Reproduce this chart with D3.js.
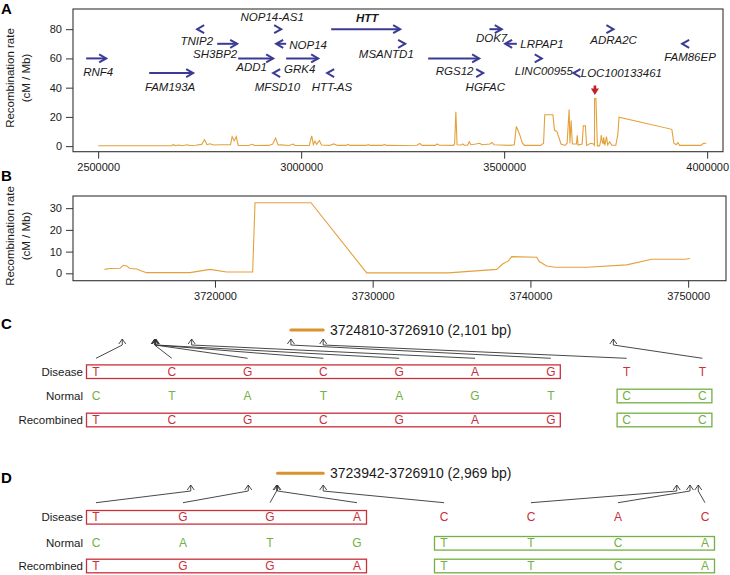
<!DOCTYPE html>
<html>
<head>
<meta charset="utf-8">
<script src="https://cdn.jsdelivr.net/npm/d3@7"></script>
<style>
body { margin: 0; background: #fff; }
svg text { font-family: "Liberation Sans", Arial, Helvetica, sans-serif; fill: #1a1a1a; }
</style>
</head>
<body>
<svg id="fig" width="730" height="575"></svg>
<script>
// ---- panel A: recombination rate over the whole region (bp, cM/Mb)
const recPosA = [2500000,2680000,2685000,2690000,2700000,2705000,2720000,2725000,2740000,2755000,
  2762000,2768000,2775000,2785000,2800000,2826000,2830000,2835000,2840000,2845000,
  2870000,2880000,2885000,2920000,2930000,2937000,2943000,2950000,2970000,2980000,
  2985000,3020000,3026000,3030000,3034000,3038000,3045000,3050000,3070000,3080000,
  3090000,3110000,3115000,3120000,3160000,3165000,3170000,3200000,3205000,3210000,
  3250000,3285000,3292000,3298000,3330000,3335000,3340000,3375000,3378000,3381000,
  3384000,3395000,3398000,3402000,3410000,3414000,3418000,3430000,3440000,3445000,
  3465000,3470000,3475000,3490000,3515000,3525000,3530000,3538000,3545000,3550000,
  3590000,3597000,3600000,3620000,3624000,3630000,3640000,3650000,3655000,3660000,
  3662000,3665000,3668000,3678000,3680000,3682000,3692000,3695000,3700000,3703000,
  3713000,3720000,3722500,3722600,3726000,3729600,3735000,3738000,3739000,3742000,
  3744000,3745000,3748000,3752000,3755000,3760000,3765000,3775000,3780000,3783000,
  3913000,3918000,3924000,3928000,3932000,3985000,3990000,3998000];
const recRateA = [0.3,0.3,1.0,0.4,0.8,0.3,0.9,0.4,0.6,1.2,
  4.5,1.0,1.6,0.8,1.0,1.0,6.5,3.5,6.5,0.5,
  0.4,1.3,0.4,0.5,1.5,5.5,0.8,0.9,0.4,1.4,
  0.4,0.5,7.0,1.0,3.5,1.2,3.8,0.8,0.5,1.5,
  0.5,0.5,1.2,0.5,0.5,1.0,0.5,0.5,1.2,0.5,
  0.4,0.6,1.8,0.5,0.5,1.5,0.6,0.5,1.5,23.5,
  1.0,0.8,1.5,0.6,0.6,3.0,1.0,1.5,2.0,1.0,
  1.5,2.5,1.0,0.8,0.5,1.0,13.5,8.0,2.0,0.5,
  0.5,2.0,21.5,21.5,11.0,10.0,1.5,0.5,2.0,25.0,
  2.0,17.5,1.5,1.5,7.5,0.8,1.5,14.0,14.0,0.5,
  2.0,1.5,0.6,32.5,32.5,0.2,0.2,4.0,7.5,2.8,
  1.5,6.0,0.5,6.5,0.8,3.0,0.6,0.6,8.0,19.8,
  11.5,2.0,1.0,2.5,0.5,0.5,1.8,2.0];
const tickA = [2500000, 3000000, 3500000, 4000000];
const yTickA = [0, 20, 40, 60, 80];
const peakMarker = 3723500;

// genes (start, end in bp; strand; track = height on the rate axis)
const geneNames  = ["RNF4","FAM193A","TNIP2","SH3BP2","ADD1","NOP14-AS1","NOP14","GRK4","MFSD10","HTT-AS",
  "HTT","MSANTD1","RGS12","HGFAC","DOK7","LRPAP1","LINC00955","LOC100133461","ADRA2C","FAM86EP"];
const geneStart  = [2470400,2625600,2743800,2793100,2844800,2946000,2938400,2963000,2931000,3064000,
  3073900,3252000,3312800,3444000,3463700,3502400,3588000,3670700,3765000,3938400];
const geneEnd    = [2519700,2734000,2747000,2842400,2931000,2950700,2963000,3041900,2935000,3068000,
  3243800,3256100,3438400,3448300,3494100,3531200,3592600,3675000,3769100,3943000];
const geneStrand = ["+","+","-","+","+","+","-","+","-","-","+","+","+","+","+","-","+","-","+","-"];
const geneTrack  = [60,50,80,70,60,80,70,60,50,50,80,70,60,50,80,70,60,50,80,70];

// ---- panel B: zoom on the peak
const recPosB = [3713000,3713340,3713980,3714190,3714400,3714610,3715040,3715350,3715670,3718420,
  3719680,3720740,3722390,3722540,3726090,3729620,3734790,3737860,3738240,3738600,
  3738810,3740400,3740560,3741030,3741560,3743570,3746100,3747690,3749800,3750120];
const recRateB = [1.8,2.2,2.3,3.7,3.4,2.2,2.0,1.1,0.3,0.3,
  1.8,0.6,0.6,32.5,32.5,0.2,0.2,1.8,4.3,5.7,
  7.7,7.4,5.4,3.4,2.8,2.8,3.9,6.5,6.5,6.8];
const tickB = [3720000, 3730000, 3740000, 3750000];
const yTickB = [0, 10, 20, 30];

// ---- panels C and D: SNP haplotypes
const rowNames = ["Disease", "Normal", "Recombined"];
const cSnpPos    = [3713850,3715950,3715980,3716010,3716040,3718360,3724810,3726910,3745770];
const cDisease   = ["T","C","G","C","G","A","G","T","T"];
const cNormal    = ["C","T","A","T","A","G","T","C","C"];
const cRecomb    = ["T","C","G","C","G","A","G","C","C"];
const cRegion    = [3724810, 3726910];
const cLabel     = "3724810-3726910 (2,101 bp)";

const dSnpPos    = [3718300,3722040,3723880,3723942,3726910,3749890,3750750,3751290];
const dDisease   = ["T","G","G","A","C","C","A","C"];
const dNormal    = ["C","A","T","G","T","T","C","A"];
const dRecomb    = ["T","G","G","A","T","T","C","A"];
const dRegion    = [3723942, 3726910];
const dLabel     = "3723942-3726910 (2,969 bp)";

// ---- styles
const ORANGE = "#e3a13c", BAR = "#da922e", RED = "#c9303a", GREEN = "#74b044", BLUE = "#3b3b95", INK = "#333";
const FONT = 11;

const svg = d3.select("#fig");

function panelLetter(t, x, y) {
  svg.append("text").attr("x", x).attr("y", y).attr("font-size", 15).attr("font-weight", "bold")
    .attr("dominant-baseline", "central").style("fill", "#000").text(t);
}

function yTitle(cy) {
  svg.append("text").attr("transform", `translate(10,${cy}) rotate(-90)`).attr("text-anchor", "middle")
    .attr("dominant-baseline", "central").attr("font-size", 11.5).text("Recombination rate");
  svg.append("text").attr("transform", `translate(26,${cy}) rotate(-90)`).attr("text-anchor", "middle")
    .attr("dominant-baseline", "central").attr("font-size", 11.5).text("(cM / Mb)");
}

function plotFrame(x, y, xticks, yticks, pad) {
  const [x0, x1] = x.range(), [y0, y1] = y.range();
  const xa = svg.append("g").attr("transform", `translate(0,${y0})`)
    .call(d3.axisBottom(x).tickValues(xticks).tickFormat(d3.format("d")).tickSize(7).tickPadding(pad));
  const ya = svg.append("g").attr("transform", `translate(${x0},0)`)
    .call(d3.axisLeft(y).tickValues(yticks).tickSize(7).tickPadding(4));
  [xa, ya].forEach(a => {
    a.select(".domain").remove();
    a.selectAll("line").attr("stroke", INK);
    a.selectAll("text").attr("font-size", FONT).attr("font-family", null).style("fill", "#1a1a1a");
  });
  svg.append("rect").attr("x", x0).attr("y", y1).attr("width", x1 - x0).attr("height", y0 - y1)
    .attr("fill", "none").attr("stroke", INK).attr("stroke-width", 1.1);
}

// ================= A =================
const xA = d3.scaleLinear().domain([2438000, 4039000]).range([73, 723]);
const yA = d3.scaleLinear().domain([-3.8, 93.8]).range([151.7, 9]);
panelLetter("A", 1, 8);
yTitle(78);
plotFrame(xA, yA, tickA, yTickA, 5);

svg.append("path").datum(recPosA.map((p, i) => [p, recRateA[i]]))
  .attr("fill", "none").attr("stroke", ORANGE).attr("stroke-width", 1.1)
  .attr("d", d3.line().x(d => xA(d[0])).y(d => yA(d[1])));

// gene arrows
const labelOffset = {
  "RNF4": [2, 14], "FAM193A": [-1, 14], "TNIP2": [-1, 12], "SH3BP2": [-12, 10], "ADD1": [-4, 8.5],
  "NOP14-AS1": [-8, -12], "NOP14": [27, 1], "GRK4": [-2.5, 11], "MFSD10": [3.5, 14], "HTT-AS": [4, 14],
  "HTT": [1.5, -11], "MSANTD1": [-18, 10], "RGS12": [1, 12.5], "HGFAC": [3, 13.5], "DOK7": [-4, 9],
  "LRPAP1": [31, 0.5], "LINC00955": [3, 12.5], "LOC100133461": [47, 0], "ADRA2C": [1, 11], "FAM86EP": [7, 13.5]
};
const gg = svg.append("g").attr("stroke", BLUE).attr("stroke-width", 2).attr("fill", "none");
geneNames.forEach((name, i) => {
  const x1 = xA(geneStart[i]), x2 = xA(geneEnd[i]), y = yA(geneTrack[i]);
  const dir = geneStrand[i] === "+" ? 1 : -1;
  const tip = dir > 0 ? x2 : x1;
  gg.append("line").attr("x1", x1).attr("x2", x2).attr("y1", y).attr("y2", y);
  gg.append("path").attr("d", `M${tip - dir * 7},${y - 4}L${tip},${y}L${tip - dir * 7},${y + 4}`);
  const [dx, dy] = labelOffset[name];
  svg.append("text").attr("x", (x1 + x2) / 2 + dx).attr("y", y + dy)
    .attr("text-anchor", "middle").attr("dominant-baseline", "central")
    .attr("font-size", 11.5).attr("font-style", "italic")
    .attr("font-weight", name === "HTT" ? "bold" : null).text(name);
});

// red marker above the peak
{
  const mx = xA(peakMarker), top = yA(41.5), bot = yA(35);
  svg.append("line").attr("x1", mx).attr("x2", mx).attr("y1", top).attr("y2", bot - 5)
    .attr("stroke", "#c2202a").attr("stroke-width", 2.6);
  svg.append("path").attr("d", `M${mx - 4},${bot - 6.5}L${mx + 4},${bot - 6.5}L${mx},${bot}Z`).attr("fill", "#c2202a");
}

// ================= B =================
const xB = d3.scaleLinear().domain([3711000, 3752400]).range([73, 726]);
const yB = d3.scaleLinear().domain([-3.4, 35.6]).range([280.7, 196]);
panelLetter("B", 1, 175);
yTitle(236);
plotFrame(xB, yB, tickB, yTickB, 5);
svg.append("path").datum(recPosB.map((p, i) => [p, recRateB[i]]))
  .attr("fill", "none").attr("stroke", ORANGE).attr("stroke-width", 1.1)
  .attr("d", d3.line().x(d => xB(d[0])).y(d => yB(d[1])));

// ================= C / D =================
// genomic position -> x for the SNP pointers and the recombined-region bar
const xG = d3.scaleLinear().domain([3726910 - 65 * 100, 3726910]).range([223.2, 323.2]);

function haplotypePanel(opt) {
  const n = opt.disease.length;
  const col = d3.scalePoint().domain(d3.range(n)).range(opt.colRange);
  const g = svg.append("g");
  panelLetter(opt.letter, 1, opt.letterY);

  // region bar and label
  g.append("line").attr("x1", xG(opt.region[0])).attr("x2", xG(opt.region[1]))
    .attr("y1", opt.barY).attr("y2", opt.barY)
    .attr("stroke", BAR).attr("stroke-width", 3).attr("stroke-linecap", "round");
  g.append("text").attr("x", 330).attr("y", opt.barY).attr("dominant-baseline", "central")
    .attr("font-size", 14).text(opt.label);

  // pointers from each SNP column to its genomic position
  opt.pos.forEach((p, i) => {
    const px = xG(p);
    g.append("path").attr("fill", "none").attr("stroke", INK).attr("stroke-width", 0.9)
      .attr("d", `M${col(i)},${opt.lineBot}L${px},${opt.tipY + 6}L${px},${opt.tipY}` +
                 `M${px - 3.5},${opt.tipY + 5}L${px},${opt.tipY}L${px + 3.5},${opt.tipY + 5}`);
  });

  // rows
  const rows = [opt.disease, opt.normal, opt.recomb];
  rows.forEach((letters, r) => {
    const y = opt.rowY[r];
    g.append("text").attr("x", 83).attr("y", y).attr("text-anchor", "end")
      .attr("dominant-baseline", "central").attr("font-size", 11.5).text(rowNames[r]);
    letters.forEach((ch, i) => {
      let c;
      if (r === 0) c = RED;
      else if (r === 1) c = GREEN;
      else c = i < opt.split ? RED : GREEN;
      g.append("text").attr("x", col(i)).attr("y", y).attr("text-anchor", "middle")
        .attr("dominant-baseline", "central").attr("font-size", 12).style("fill", c).text(ch);
    });
  });

  // boxes: disease block on Disease/Recombined, normal block on Normal/Recombined
  const box = (i0, i1, y, color) => g.append("rect")
    .attr("x", col(i0) - 9.5).attr("y", y - 6.8).attr("width", col(i1) - col(i0) + 19).attr("height", 13.6)
    .attr("fill", "none").attr("stroke", color).attr("stroke-width", 1.3);
  box(0, opt.split - 1, opt.rowY[0], RED);
  box(0, opt.split - 1, opt.rowY[2], RED);
  box(opt.split, n - 1, opt.rowY[1], GREEN);
  box(opt.split, n - 1, opt.rowY[2], GREEN);
}

haplotypePanel({
  letter: "C", letterY: 323.5, disease: cDisease, normal: cNormal, recomb: cRecomb, pos: cSnpPos,
  region: cRegion, label: cLabel, split: 7, colRange: [96, 702.4],
  barY: 330, tipY: 339, lineBot: 358.3, rowY: [371.7, 396, 420]
});
haplotypePanel({
  letter: "D", letterY: 477, disease: dDisease, normal: dNormal, recomb: dRecomb, pos: dSnpPos,
  region: dRegion, label: dLabel, split: 4, colRange: [96, 705],
  barY: 473.3, tipY: 485, lineBot: 502.7, rowY: [517.3, 543.3, 566]
});
</script>
</body>
</html>
